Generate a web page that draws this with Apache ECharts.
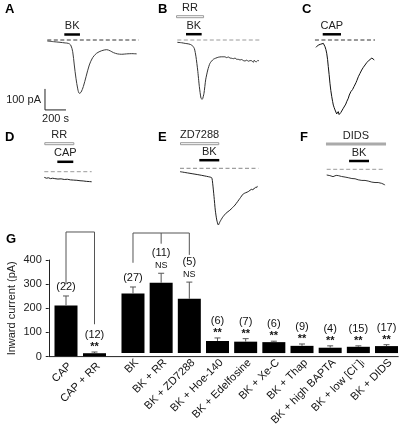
<!DOCTYPE html>
<html><head><meta charset="utf-8">
<script src="https://cdn.jsdelivr.net/npm/echarts@6/dist/echarts.min.js"></script>
<style>html,body{margin:0;padding:0;background:#fff}#c{width:407px;height:428px}</style>
</head><body><div id="c"></div>
<script>
// ================= DATA =================
// Current traces: [time (s), current (pA)], baseline = 0 pA
const traceA = [[0,-5],[60,-8],[121,-11],[170,-14],[200,-16],[223,-24],[242,-56],[257,-119],[273,-182],[290,-233],[305,-254],[321,-249],[343,-222],[369,-175],[400,-119],[432,-84],[470,-63],[518,-51],[566,-46],[600,-52],[630,-60],[667,-66],[709,-68],[756,-66],[804,-65],[851,-66]];
const traceB = [[0,-11],[40,-13],[73,-16],[110,-19],[137,-24],[162,-40],[178,-80],[194,-143],[210,-222],[226,-278],[238,-282],[254,-254],[270,-190],[290,-143],[311,-111],[343,-92],[390,-82],[420,-80],[454,-80],[470,-84],[486,-81],[502,-86],[518,-87],[534,-89],[550,-86],[566,-92],[581,-92],[597,-95],[613,-93],[629,-98],[645,-100],[661,-96],[677,-101],[693,-98],[709,-99],[725,-106],[733,-96],[745,-103],[756,-103],[768,-97],[778,-100]];
const traceC = [[0,-35],[8,-28],[15,-30],[22,-24],[30,-27],[38,-21],[45,-20],[52,-23],[60,-17],[70,-16],[78,-22],[86,-32],[94,-45],[102,-63],[110,-92],[117,-127],[125,-165],[133,-206],[141,-240],[150,-270],[158,-292],[165,-310],[173,-322],[181,-333],[189,-340],[197,-352],[205,-345],[212,-341],[220,-355],[229,-357],[237,-345],[245,-341],[252,-338],[260,-325],[268,-328],[276,-318],[284,-305],[292,-294],[300,-285],[308,-277],[317,-262],[325,-258],[332,-246],[340,-238],[348,-236],[355,-230],[362,-222],[370,-214],[381,-203],[390,-192],[396,-185],[403,-175],[410,-166],[418,-160],[426,-152],[435,-143],[443,-136],[451,-130],[459,-122],[467,-119],[475,-112],[483,-108],[490,-104],[498,-103],[506,-96],[514,-95],[524,-92],[532,-86],[540,-80],[547,-88],[555,-95]];
const traceD = [[0,-27],[20,-31],[40,-29],[60,-33],[80,-31],[100,-33],[130,-35],[160,-34],[190,-37],[220,-36],[250,-39],[280,-40],[310,-41],[340,-43],[370,-44],[400,-46],[430,-47],[451,-48]];
const traceE = [[0,-16],[95,-24],[190,-32],[270,-40],[302,-45],[311,-71],[324,-135],[336,-199],[350,-246],[365,-270],[381,-254],[406,-233],[438,-214],[476,-199],[524,-175],[571,-143],[603,-122],[650,-111],[683,-100],[695,-103],[705,-95],[714,-95],[722,-90],[730,-92],[736,-84]];
const traceF = [[0,-27],[15,-31],[30,-30],[45,-34],[60,-35],[75,-31],[90,-29],[110,-30],[125,-35],[140,-34],[158,-38],[175,-37],[190,-41],[205,-40],[222,-43],[240,-44],[255,-47],[270,-45],[286,-48],[300,-50],[318,-49],[335,-53],[349,-54],[365,-53],[380,-57],[395,-56],[413,-59],[430,-61],[445,-60],[460,-63],[476,-64],[490,-63],[505,-66],[524,-67],[540,-69],[550,-73],[556,-75]];

// Dashed zero-current baselines: [start s, end s]
const baselineA = [0, 870];
const baselineB = [0, 781];
const baselineC = [-10, 562];
const baselineD = [0, 451];
const baselineE = [0, 746];
const baselineF = [0, 555];

// Drug applications (first = lower row): [name, start s, end s]
const drugsA = [['BK', 162, 311]];
const drugsB = [['BK', 83, 232], ['RR', -12, 255]];
const drugsC = [['CAP', 64, 238]];
const drugsD = [['CAP', 124, 276], ['RR', 0, 286]];
const drugsE = [['BK', 184, 374], ['ZD7288', 0, 374]];
const drugsF = [['BK', 213, 403], ['DIDS', -7, 565]];

// Scale bar
const scaleCurrent = 100; // pA
const scaleTime = 200;    // s
const scaleOrigin = [-22, -333];

// Panel G
const catsG1 = ['CAP', 'CAP + RR'];
const meanG1 = [212, 14];
const semG1 = [39, 5];
const nG1 = [22, 12];
const sigG1 = ['', '**'];
const catsG2 = ['BK', 'BK + RR', 'BK + ZD7288', 'BK + Hoe-140', 'BK + Edelfosine', 'BK + Xe-C', 'BK + Thap', 'BK + high BAPTA', 'BK + low [Cl\u207B]\u1D62', 'BK + DIDS'];
const meanG2 = [256, 302, 233, 52, 49, 47, 31, 23, 27, 30];
const semG2 = [28, 41, 72, 13, 13, 4, 8, 8, 4, 6];
const nG2 = [27, 11, 5, 6, 7, 6, 9, 4, 15, 17];
const sigG2 = ['', 'NS', 'NS', '**', '**', '**', '**', '**', '**', '**'];
const yTicksG = [0, 100, 200, 300, 400];
// Comparison brackets: leg end (pA) per category, bracket height (pA)
const bracketG1Legs = [300, 134];
const bracketG2Legs = [388, 470, 422];
const bracketTop = 516;

// ================= LAYOUT / STYLE =================
const FONT = '"Liberation Sans", Arial, Helvetica, sans-serif';
const SX = 0.105, SY = 0.21, Y_TOP = 60, Y_BOT = -420;
const drugStyle = {BK:'black', CAP:'black', RR:'open', ZD7288:'open', DIDS:'gray'};
const panels = [
  {letter:'A', lx:5, ly:10, trace:traceA, base:baselineA, drugs:drugsA, x0:47.3, y0:40, tMin:-30, tMax:880, rows:[5.5], dash:'#333', line:'#3c3c3c', smooth:0.3},
  {letter:'B', lx:158, ly:10, trace:traceB, base:baselineB, drugs:drugsB, x0:177.3, y0:40, tMin:-20, tMax:790, rows:[5.8,23.3], dash:'#9a9a9a', line:'#333', smooth:0.2},
  {letter:'C', lx:302, ly:10, trace:traceC, base:baselineC, drugs:drugsC, x0:316, y0:40, tMin:-20, tMax:570, rows:[5.7], dash:'#333', line:'#111', smooth:false},
  {letter:'D', lx:5, ly:138, trace:traceD, base:baselineD, drugs:drugsD, x0:44.3, y0:171.7, tMin:-10, tMax:460, rows:[9.9,28], dash:'#9a9a9a', line:'#222', smooth:false},
  {letter:'E', lx:158, ly:138, trace:traceE, base:baselineE, drugs:drugsE, x0:180, y0:168.3, tMin:-10, tMax:750, rows:[8.1,24.6], dash:'#888', line:'#222', smooth:0.2},
  {letter:'F', lx:300, ly:138, trace:traceF, base:baselineF, drugs:drugsF, x0:326.7, y0:169.3, tMin:-20, tMax:570, rows:[8.3,25.3], dash:'#9a9a9a', line:'#333', smooth:false}
];
const G_TOP = 260, G_H = 96.6;
const G1 = {left:51.75, width:57};
const G2 = {left:118.9, width:281.7};

const grid = [], xAxis = [], yAxis = [], series = [], graphic = [];

panels.forEach((p, i) => {
  grid.push({left: p.x0 + p.tMin*SX, width: (p.tMax - p.tMin)*SX, top: p.y0 - Y_TOP*SY, height: (Y_TOP - Y_BOT)*SY, containLabel:false});
  xAxis.push({gridIndex:i, type:'value', min:p.tMin, max:p.tMax, show:false});
  yAxis.push({gridIndex:i, type:'value', min:Y_BOT, max:Y_TOP, show:false});
  series.push({type:'line', xAxisIndex:i, yAxisIndex:i, data:[[p.base[0],0],[p.base[1],0]], symbol:'none', silent:true,
    lineStyle:{color:p.dash, width:1, type:[4,2.5]}});
  series.push({type:'line', xAxisIndex:i, yAxisIndex:i, data:p.trace, symbol:'none', smooth:p.smooth, silent:true,
    lineStyle:{color:p.line, width:1}});
  series.push({type:'custom', xAxisIndex:i, yAxisIndex:i, clip:false, silent:true,
    data: p.drugs.map((d, r) => [d[1], d[2], r]),
    renderItem: (params, api) => {
      const d = p.drugs[params.dataIndex];
      const a = api.coord([d[1], 0]), b = api.coord([d[2], 0]);
      const y = a[1] - p.rows[params.dataIndex];
      const kind = drugStyle[d[0]];
      let rect;
      if (kind === 'black') rect = {type:'rect', shape:{x:a[0], y:y-1.25, width:b[0]-a[0], height:2.5}, style:{fill:'#000'}};
      else if (kind === 'open') rect = {type:'rect', shape:{x:a[0]+0.5, y:y-1, width:b[0]-a[0]-1, height:2}, style:{fill:'#fff', stroke:'#999', lineWidth:1}};
      else rect = {type:'rect', shape:{x:a[0], y:y-1.5, width:b[0]-a[0], height:3}, style:{fill:'#aaa'}};
      return {type:'group', children:[rect,
        {type:'text', style:{text:d[0], x:(a[0]+b[0])/2, y:y-8.5, align:'center', verticalAlign:'middle', fontSize:11, fontFamily:FONT, fill:'#222'}}]};
    }});
  graphic.push({type:'text', left:p.lx, top:p.ly - 7, style:{text:p.letter, fontSize:13, fontWeight:'bold', fontFamily:FONT, fill:'#000'}});
});

// scale bar in panel A
series.push({type:'custom', xAxisIndex:0, yAxisIndex:0, clip:false, silent:true, data:[scaleOrigin],
  renderItem: (params, api) => {
    const o = api.coord(scaleOrigin);
    const t = api.coord([scaleOrigin[0], scaleOrigin[1] + scaleCurrent]);
    const r = api.coord([scaleOrigin[0] + scaleTime, scaleOrigin[1]]);
    return {type:'group', children:[
      {type:'polyline', shape:{points:[t, o, r]}, style:{stroke:'#222', lineWidth:1, fill:null}},
      {type:'text', style:{text: scaleCurrent + ' pA', x:o[0]-4, y:(o[1]+t[1])/2 + 1, align:'right', verticalAlign:'middle', fontSize:11, fontFamily:FONT, fill:'#222'}},
      {type:'text', style:{text: scaleTime + ' s', x:(o[0]+r[0])/2, y:o[1]+9, align:'center', verticalAlign:'middle', fontSize:11, fontFamily:FONT, fill:'#222'}}
    ]};
  }});

// ---- Panel G ----
const gi1 = panels.length, gi2 = panels.length + 1;
grid.push({left:G1.left, width:G1.width, top:G_TOP, height:G_H});
grid.push({left:G2.left, width:G2.width, top:G_TOP, height:G_H});
const xLab = {rotate:45, interval:0, fontSize:11, fontFamily:FONT, color:'#111', margin:4, verticalAlign:'top'};
xAxis.push({gridIndex:gi1, type:'category', data:catsG1, axisLine:{show:false}, axisTick:{show:false}, axisLabel:xLab});
xAxis.push({gridIndex:gi2, type:'category', data:catsG2, axisLine:{show:false}, axisTick:{show:false}, axisLabel:xLab});
yAxis.push({gridIndex:gi1, type:'value', min:yTicksG[0], max:yTicksG[yTicksG.length-1], interval:100, offset:3,
  axisLine:{show:true, lineStyle:{color:'#222', width:1}}, axisTick:{show:true, length:3, lineStyle:{color:'#222'}},
  axisLabel:{fontSize:11, fontFamily:FONT, color:'#222', margin:7}, splitLine:{show:false},
  name:'Inward current (pA)', nameLocation:'middle', nameRotate:90, nameGap:31,
  nameTextStyle:{fontSize:11, fontFamily:FONT, color:'#222'}});
yAxis.push({gridIndex:gi2, type:'value', min:0, max:400, show:false});

function gSeries(idx, cats, mean, sem, n, sig, legs) {
  series.push({type:'bar', xAxisIndex:idx, yAxisIndex:idx, data:mean, barWidth:23, itemStyle:{color:'#000'}, silent:true});
  series.push({type:'custom', xAxisIndex:idx, yAxisIndex:idx, clip:false, silent:true, z:5,
    data: mean.map((m, i) => [i, m + sem[i]]),
    renderItem: (params, api) => {
      const i = params.dataIndex;
      const pb = api.coord([i, mean[i]]);
      const pe = api.coord([i, mean[i] + sem[i]]);
      const x = pb[0];
      const ch = [
        {type:'line', shape:{x1:x, y1:pb[1], x2:x, y2:pe[1]}, style:{stroke:'#555', lineWidth:1}},
        {type:'line', shape:{x1:x-3, y1:pe[1], x2:x+3, y2:pe[1]}, style:{stroke:'#555', lineWidth:1}}
      ];
      let nOff = 9;
      if (sig[i] === '**') {
        ch.push({type:'text', style:{text:'**', x:x, y:pe[1]-5, align:'center', verticalAlign:'middle', fontSize:11, fontWeight:'bold', fontFamily:FONT, fill:'#111'}});
        nOff = 17;
      } else if (sig[i] === 'NS') {
        ch.push({type:'text', style:{text:'NS', x:x, y:pe[1]-8, align:'center', verticalAlign:'middle', fontSize:9, fontFamily:FONT, fill:'#111'}});
        nOff = 20;
      }
      ch.push({type:'text', style:{text:'(' + n[i] + ')', x:x, y:pe[1]-nOff, align:'center', verticalAlign:'middle', fontSize:11, fontFamily:FONT, fill:'#111'}});
      return {type:'group', children:ch};
    }});
  series.push({type:'custom', xAxisIndex:idx, yAxisIndex:idx, clip:false, silent:true, data:[[0, bracketTop]],
    renderItem: (params, api) => {
      const ch = [];
      const first = api.coord([0, bracketTop]), last = api.coord([legs.length-1, bracketTop]);
      ch.push({type:'line', shape:{x1:first[0], y1:first[1], x2:last[0], y2:last[1]}, style:{stroke:'#555', lineWidth:1}});
      legs.forEach((v, i) => {
        const a = api.coord([i, bracketTop]), b = api.coord([i, v]);
        ch.push({type:'line', shape:{x1:a[0], y1:a[1], x2:b[0], y2:b[1]}, style:{stroke:'#555', lineWidth:1}});
      });
      return {type:'group', children:ch};
    }});
}
gSeries(gi1, catsG1, meanG1, semG1, nG1, sigG1, bracketG1Legs);
gSeries(gi2, catsG2, meanG2, semG2, nG2, sigG2, bracketG2Legs);

// continuous x-axis line under both groups
graphic.push({type:'line', shape:{x1:49, y1:G_TOP+G_H, x2:G2.left+G2.width-2, y2:G_TOP+G_H}, style:{stroke:'#222', lineWidth:1}, z:10});
graphic.push({type:'text', left:6, top:233, style:{text:'G', fontSize:13, fontWeight:'bold', fontFamily:FONT, fill:'#000'}});

const chart = echarts.init(document.getElementById('c'), null, {renderer:'canvas'});
chart.setOption({animation:false, backgroundColor:'#fff', grid, xAxis, yAxis, series, graphic});
</script>
</body></html>
